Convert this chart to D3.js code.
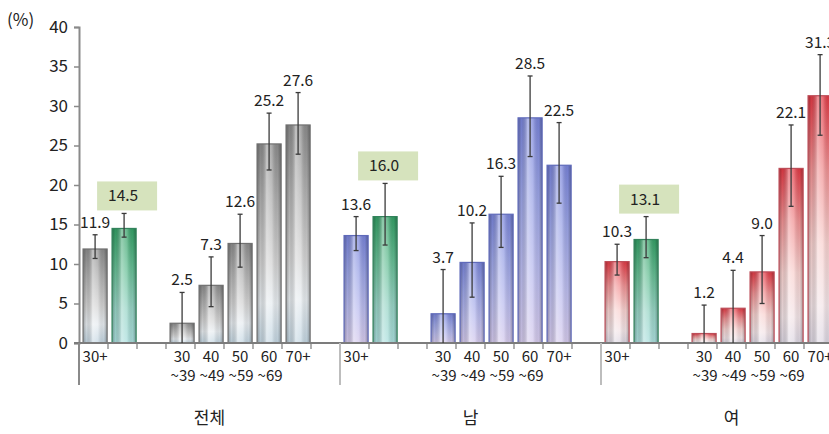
<!DOCTYPE html>
<html>
<head>
<meta charset="utf-8">
<script src="https://cdn.jsdelivr.net/npm/d3@7"></script>
<style>
  html, body { margin: 0; padding: 0; background: #fff; }
  svg { display: block; font-family: "Noto Sans CJK KR", "Noto Sans", sans-serif; }
</style>
</head>
<body>
<svg id="chart" width="829" height="434"></svg>
<script>
// Prevalence (%) by sex and age group, with 95% confidence intervals
const groupNames = ["전체", "남", "여"];
const groupThemes = ["gray", "blue", "red"];
const ageTop = ["30", "40", "50", "60", "70+"];
const ageBottom = ["~39", "~49", "~59", "~69", ""];
const allAgeLabel = "30+";

// 30+ overall (first bar of each group)
const allAge = [11.9, 13.6, 10.3];
const allAgeLow = [10.7, 11.7, 8.6];
const allAgeHigh = [13.7, 16.0, 12.5];

// 30+ age-standardised (green bar, boxed label)
const stdRate = [14.5, 16.0, 13.1];
const stdRateLow = [13.4, 12.4, 10.8];
const stdRateHigh = [16.4, 20.2, 16.0];

// by age band
const ageTotal = [2.5, 7.3, 12.6, 25.2, 27.6];
const ageTotalLow = [0, 4.6, 9.6, 21.9, 23.9];
const ageTotalHigh = [6.4, 10.9, 16.3, 29.1, 31.7];

const ageMale = [3.7, 10.2, 16.3, 28.5, 22.5];
const ageMaleLow = [0, 5.8, 12.1, 23.6, 17.7];
const ageMaleHigh = [9.3, 15.2, 21.1, 33.8, 27.9];

const ageFemale = [1.2, 4.4, 9.0, 22.1, 31.3];
const ageFemaleLow = [0, 0, 5.0, 17.3, 26.3];
const ageFemaleHigh = [4.8, 9.2, 13.6, 27.6, 36.5];

const yTicks = [0, 5, 10, 15, 20, 25, 30, 35, 40];

const ageSeries = [
  { v: ageTotal, lo: ageTotalLow, hi: ageTotalHigh },
  { v: ageMale, lo: ageMaleLow, hi: ageMaleHigh },
  { v: ageFemale, lo: ageFemaleLow, hi: ageFemaleHigh }
];

// nine slots per group: 30+, standardised, gap, five age bands, gap
const slotsPerGroup = 9;
const slotKeys = [];
groupNames.forEach((g, gi) => { for (let s = 0; s < slotsPerGroup; s++) slotKeys.push(gi + "-" + s); });

const bars = [];
groupNames.forEach((g, gi) => {
  bars.push({ key: gi + "-0", value: allAge[gi], lo: allAgeLow[gi], hi: allAgeHigh[gi], theme: groupThemes[gi], top: allAgeLabel, bottom: "", boxed: false });
  bars.push({ key: gi + "-1", value: stdRate[gi], lo: stdRateLow[gi], hi: stdRateHigh[gi], theme: "green", top: "", bottom: "", boxed: true });
  ageTop.forEach((a, ai) => {
    const s = ageSeries[gi];
    bars.push({ key: gi + "-" + (ai + 3), value: s.v[ai], lo: s.lo[ai], hi: s.hi[ai], theme: groupThemes[gi], top: a, bottom: ageBottom[ai], boxed: false });
  });
});

const svg = d3.select("#chart");
const W = 829;

const x = d3.scaleBand().domain(slotKeys).range([79, 79 + 29 * slotKeys.length]).padding(0);
const step = x.step();
const barOff = step * 0.14, barW = step * 0.83;
const cx = k => x(k) + barOff + barW / 2;
const y = d3.scaleLinear().domain([0, 40]).range([343, 27]);

// gradients
const defs = svg.append("defs");
const themes = {
  gray:  { stops: [["0%", "#8c8c8c"], ["30%", "#b2b2b2"], ["60%", "#d4d4d4"], ["80%", "#e8edf1"], ["100%", "#c3d6e2"]], stroke: "#707070" },
  blue:  { stops: [["0%", "#7984da"], ["35%", "#9ca5e7"], ["70%", "#bcbdef"], ["100%", "#d5caed"]], stroke: "#5f6aba" },
  red:   { stops: [["0%", "#e23a45"], ["30%", "#f19294"], ["60%", "#f9d2d0"], ["85%", "#f4e5e8"], ["100%", "#ddd7e3"]], stroke: "#bd4d58" },
  green: { stops: [["0%", "#34a066"], ["35%", "#66bf95"], ["70%", "#98d5c6"], ["100%", "#abdfde"]], stroke: "#33835c" }
};
Object.entries(themes).forEach(([name, t]) => {
  const g = defs.append("linearGradient").attr("id", "fill-" + name)
    .attr("x1", 0).attr("y1", 0).attr("x2", 0).attr("y2", 1);
  t.stops.forEach(([o, c]) => g.append("stop").attr("offset", o).attr("stop-color", c));
});
const shade = defs.append("linearGradient").attr("id", "shade").attr("x1", 0).attr("y1", 0).attr("x2", 1).attr("y2", 0);
[["0%", "#000", 0.3], ["14%", "#000", 0.08], ["40%", "#fff", 0.45], ["62%", "#fff", 0.25], ["86%", "#000", 0.06], ["100%", "#000", 0.32]]
  .forEach(([o, c, a]) => shade.append("stop").attr("offset", o).attr("stop-color", c).attr("stop-opacity", a));

// y axis
const yAxis = svg.append("g").attr("transform", "translate(79,0)")
  .call(d3.axisLeft(y).tickValues(yTicks).tickSize(5).tickPadding(6));
yAxis.select(".domain").attr("stroke", "#8a8a8a").attr("stroke-width", 2);
yAxis.selectAll(".tick line").attr("stroke", "#8a8a8a").attr("stroke-width", 1.5);
yAxis.selectAll(".tick text").attr("font-size", 17).attr("fill", "#222")
  .attr("font-family", "\"Noto Sans CJK KR\", sans-serif");

svg.append("text").attr("x", 7).attr("y", 26).attr("font-size", 17).attr("fill", "#222").text("(%)");

// bars
const barG = svg.append("g");
bars.forEach(b => {
  const bx = x(b.key) + barOff;
  const by = y(b.value);
  const bh = y(0) - by;
  barG.append("rect").attr("x", bx).attr("y", by).attr("width", barW).attr("height", bh)
    .attr("fill", "url(#fill-" + b.theme + ")");
  barG.append("rect").attr("x", bx).attr("y", by).attr("width", barW).attr("height", bh)
    .attr("fill", "url(#shade)").attr("stroke", themes[b.theme].stroke).attr("stroke-width", 1.2);
});

// x axis line, ticks and group separators
svg.append("line").attr("x1", 74).attr("x2", W).attr("y1", y(0)).attr("y2", y(0))
  .attr("stroke", "#7c7c7c").attr("stroke-width", 2);
slotKeys.forEach((k, i) => {
  const s = i % slotsPerGroup;
  const xx = x(k);
  if (s === 0) {
    svg.append("line").attr("x1", xx).attr("x2", xx).attr("y1", y(0)).attr("y2", y(0) + 42)
      .attr("stroke", i === 0 ? "#8a8a8a" : "#bdbdbd").attr("stroke-width", 2);
  } else {
    svg.append("line").attr("x1", xx).attr("x2", xx).attr("y1", y(0)).attr("y2", y(0) + 6)
      .attr("stroke", "#7c7c7c").attr("stroke-width", 1.2);
  }
});

// error bars
const errG = svg.append("g").attr("stroke", "#3a3a3a").attr("stroke-width", 1.3);
bars.forEach(b => {
  const c = cx(b.key);
  errG.append("line").attr("x1", c).attr("x2", c).attr("y1", y(b.lo)).attr("y2", y(b.hi));
  errG.append("line").attr("x1", c - 2.5).attr("x2", c + 2.5).attr("y1", y(b.hi)).attr("y2", y(b.hi));
  if (b.lo > 0) errG.append("line").attr("x1", c - 2.5).attr("x2", c + 2.5).attr("y1", y(b.lo)).attr("y2", y(b.lo));
});

// value labels
bars.forEach(b => {
  const c = cx(b.key);
  if (b.boxed) {
    const bottom = y(b.hi) - 3;
    svg.append("rect").attr("x", c - 27).attr("y", bottom - 29).attr("width", 60).attr("height", 29)
      .attr("fill", "#d6e3bd");
    svg.append("text").attr("x", c - 1).attr("y", bottom - 9).attr("text-anchor", "middle")
      .attr("font-size", 15.5).attr("fill", "#222").text(b.value.toFixed(1));
  } else {
    svg.append("text").attr("x", c).attr("y", y(b.hi) - 7).attr("text-anchor", "middle")
      .attr("font-size", 15.5).attr("fill", "#222").text(b.value.toFixed(1));
  }
});

// category labels
bars.forEach(b => {
  const c = cx(b.key);
  if (b.top) svg.append("text").attr("x", c).attr("y", 362).attr("text-anchor", "middle")
    .attr("font-size", 15).attr("fill", "#222").text(b.top);
  if (b.bottom) svg.append("text").attr("x", c + 1).attr("y", 381).attr("text-anchor", "middle")
    .attr("font-size", 15).attr("fill", "#222").text(b.bottom);
});

// group labels
groupNames.forEach((g, gi) => {
  const first = x(gi + "-0");
  svg.append("text").attr("x", first + step * slotsPerGroup / 2).attr("y", 424)
    .attr("text-anchor", "middle").attr("font-size", 17).attr("fill", "#222").text(g);
});
</script>
</body>
</html>
